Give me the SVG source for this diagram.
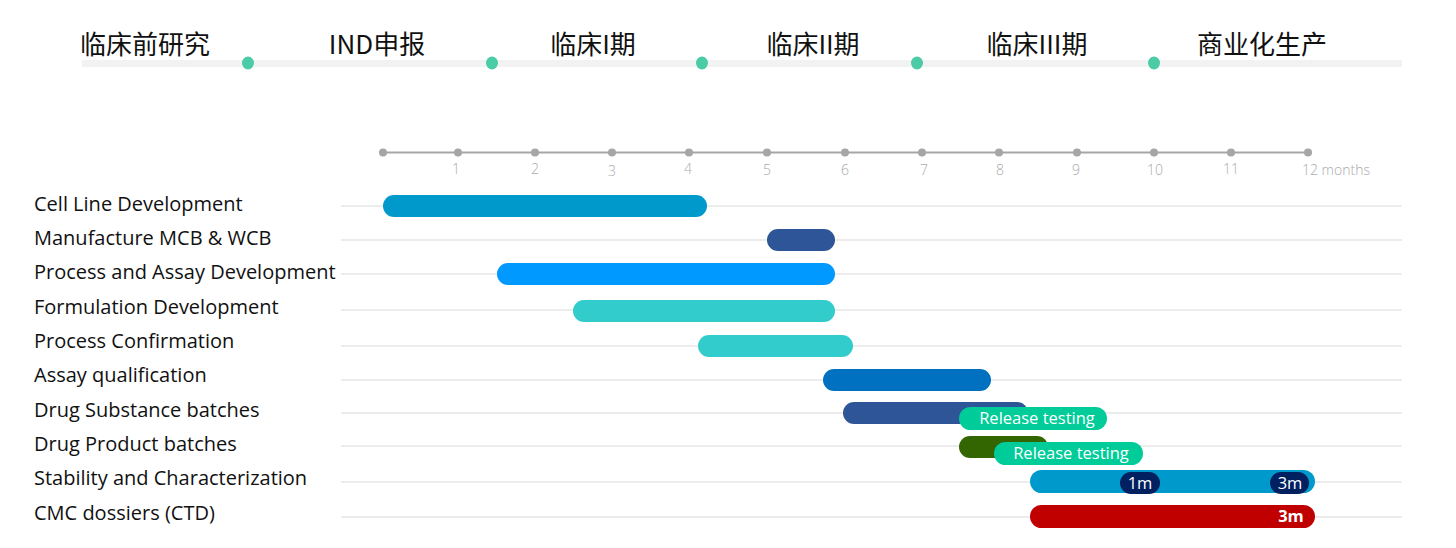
<svg xmlns="http://www.w3.org/2000/svg" width="1456" height="548" viewBox="0 0 1456 548">
<style>
.ph{font-family:"Noto Sans CJK SC","Noto Sans",sans-serif;font-size:26px;fill:#111;text-anchor:middle}
.lbl{font-family:"Open Sans","Noto Sans",sans-serif;font-size:20px;fill:#111}
.tick{font-family:"Open Sans","Liberation Sans",sans-serif;font-size:14px;fill:#aaaaaa;text-anchor:middle;font-weight:300}
.tickend{text-anchor:start}
.grid{stroke:#e6e6e6;stroke-width:1.5}
.pill{font-family:"Open Sans","Noto Sans",sans-serif;font-size:16.5px;fill:#fff;text-anchor:middle}
.dot{fill:#4ccca6}
.ax{fill:#a6a6a6}
</style>
<rect width="1456" height="548" fill="#fff"/>
<g id="phases">
<rect x="82" y="60" width="1320" height="7" fill="#f2f2f2"/>
<ellipse class="dot" cx="248" cy="63" rx="6" ry="6.5"/>
<ellipse class="dot" cx="492" cy="63" rx="6" ry="6.5"/>
<ellipse class="dot" cx="702" cy="63" rx="6" ry="6.5"/>
<ellipse class="dot" cx="917" cy="63" rx="6" ry="6.5"/>
<ellipse class="dot" cx="1154" cy="63" rx="6" ry="6.5"/>
<text class="ph" x="145" y="54">临床前研究</text>
<text class="ph" x="377" y="54">IND申报</text>
<text class="ph" x="593" y="54">临床I期</text>
<text class="ph" x="813" y="54">临床II期</text>
<text class="ph" x="1037" y="54">临床III期</text>
<text class="ph" x="1262" y="54">商业化生产</text>
</g>
<g id="axis">
<line x1="383" y1="152.5" x2="1308" y2="152.5" stroke="#a6a6a6" stroke-width="2"/>
<circle class="ax" cx="383" cy="152.5" r="4"/>
<circle class="ax" cx="458" cy="152.5" r="4"/>
<circle class="ax" cx="535" cy="152.5" r="4"/>
<circle class="ax" cx="612" cy="152.5" r="4"/>
<circle class="ax" cx="689" cy="152.5" r="4"/>
<circle class="ax" cx="767" cy="152.5" r="4"/>
<circle class="ax" cx="845" cy="152.5" r="4"/>
<circle class="ax" cx="922" cy="152.5" r="4"/>
<circle class="ax" cx="999" cy="152.5" r="4"/>
<circle class="ax" cx="1077" cy="152.5" r="4"/>
<circle class="ax" cx="1154" cy="152.5" r="4"/>
<circle class="ax" cx="1231" cy="152.5" r="4"/>
<circle class="ax" cx="1308" cy="152.5" r="4"/>
<text class="tick" x="456" y="174">1</text>
<text class="tick" x="535" y="174">2</text>
<text class="tick" x="612" y="176">3</text>
<text class="tick" x="688" y="174">4</text>
<text class="tick" x="767" y="175">5</text>
<text class="tick" x="845" y="175">6</text>
<text class="tick" x="924" y="175">7</text>
<text class="tick" x="1000" y="175">8</text>
<text class="tick" x="1076" y="175">9</text>
<text class="tick" x="1155" y="175">10</text>
<text class="tick" x="1231" y="174">11</text>
<text class="tick tickend" x="1302" y="175">12 months</text>
</g>
<g id="gridlines">
<line class="grid" x1="341" y1="206" x2="1402" y2="206"/>
<line class="grid" x1="341" y1="240" x2="1402" y2="240"/>
<line class="grid" x1="341" y1="274" x2="1402" y2="274"/>
<line class="grid" x1="341" y1="310" x2="1402" y2="310"/>
<line class="grid" x1="341" y1="346" x2="1402" y2="346"/>
<line class="grid" x1="341" y1="380" x2="1402" y2="380"/>
<line class="grid" x1="341" y1="413" x2="1402" y2="413"/>
<line class="grid" x1="341" y1="446" x2="1402" y2="446"/>
<line class="grid" x1="341" y1="482" x2="1402" y2="482"/>
<line class="grid" x1="341" y1="517" x2="1402" y2="517"/>
</g>
<g id="labels">
<text class="lbl" x="34" y="211">Cell Line Development</text>
<text class="lbl" x="34" y="245">Manufacture MCB &amp; WCB</text>
<text class="lbl" x="34" y="279">Process and Assay Development</text>
<text class="lbl" x="34" y="314">Formulation Development</text>
<text class="lbl" x="34" y="348">Process Confirmation</text>
<text class="lbl" x="34" y="382">Assay qualification</text>
<text class="lbl" x="34" y="417">Drug Substance batches</text>
<text class="lbl" x="34" y="451">Drug Product batches</text>
<text class="lbl" x="34" y="485">Stability and Characterization</text>
<text class="lbl" x="34" y="520">CMC dossiers (CTD)</text>
</g>
<g id="bar-cell-line"><rect x="383" y="195" width="324" height="22" rx="11" fill="#0099cc"/></g>
<g id="bar-mcb-wcb"><rect x="767" y="229" width="68" height="22" rx="11" fill="#2e5597"/></g>
<g id="bar-process-assay"><rect x="497" y="263" width="338" height="22" rx="11" fill="#0099ff"/></g>
<g id="bar-formulation"><rect x="573" y="300" width="262" height="22" rx="11" fill="#33cccc"/></g>
<g id="bar-process-confirmation"><rect x="698" y="335" width="155" height="22" rx="11" fill="#33cccc"/></g>
<g id="bar-assay-qualification"><rect x="823" y="369" width="168" height="22" rx="11" fill="#0070c0"/></g>
<g id="bar-drug-substance">
<rect x="843" y="402" width="185" height="22" rx="11" fill="#2e5597"/>
<rect x="959" y="407" width="148" height="23" rx="11.5" fill="#00cc99"/>
<text class="pill" x="1037" y="424">Release testing</text>
</g>
<g id="bar-drug-product">
<rect x="959" y="436" width="89" height="22" rx="11" fill="#336600"/>
<rect x="994" y="442" width="149" height="23" rx="11.5" fill="#00cc99"/>
<text class="pill" x="1071" y="459">Release testing</text>
</g>
<g id="bar-stability">
<rect x="1030" y="470" width="285" height="23" rx="11.5" fill="#0099cc"/>
<rect x="1120" y="472" width="40" height="22" rx="11" fill="#002060"/>
<text class="pill" x="1140" y="489">1m</text>
<rect x="1270" y="472" width="39" height="22" rx="11" fill="#002060"/>
<text class="pill" x="1290" y="489">3m</text>
</g>
<g id="bar-cmc">
<rect x="1030" y="505" width="285" height="23" rx="11.5" fill="#c00000"/>
<text class="pill" x="1291" y="522" font-weight="bold">3m</text>
</g>
</svg>
